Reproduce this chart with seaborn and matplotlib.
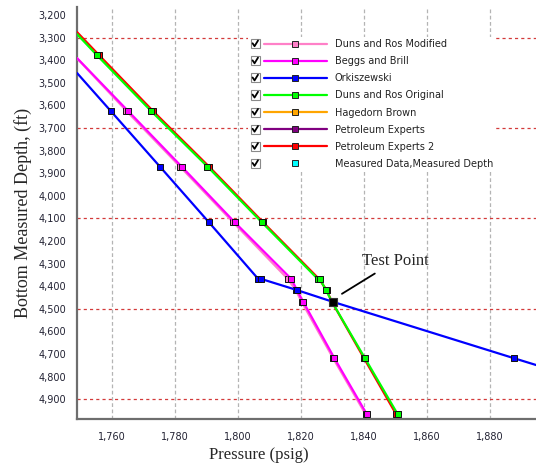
import matplotlib
matplotlib.use("Agg")
import matplotlib.pyplot as plt
import seaborn as sns
import pandas as pd
from matplotlib.lines import Line2D
from matplotlib.patches import Rectangle
from matplotlib.legend_handler import HandlerBase
from matplotlib.ticker import MultipleLocator, FuncFormatter

# ---------------- data ----------------
series_names = ["Duns and Ros Modified", "Beggs and Brill", "Orkiszewski",
                "Duns and Ros Original", "Hagedorn Brown", "Petroleum Experts",
                "Petroleum Experts 2"]
series_colors = ["#FF80C8", "#FF00FF", "#0000FF", "#00FF00", "#FFA500",
                 "#800080", "#FF0000"]

# marker points (pressure psig, depth ft)
drm_p = [1764.6, 1781.6, 1798.5, 1815.8, 1818.3, 1820.2, 1830.2, 1840.5]
drm_d = [3625, 3871, 4118, 4368, 4417, 4469, 4719, 4967]
bb_p = [1765.1, 1782.1, 1799.0, 1816.9, 1818.7, 1820.7, 1830.6, 1840.9]
bb_d = [3625, 3871, 4118, 4368, 4417, 4469, 4719, 4967]
ork_p = [1759.6, 1775.2, 1790.8, 1806.4, 1807.3, 1818.6, 1830.0, 1887.6]
ork_d = [3625, 3871, 4118, 4368, 4368, 4417, 4469, 4719]
dro_p = [1755.2, 1772.4, 1790.3, 1807.6, 1825.3, 1826.0, 1827.9, 1829.8, 1840.3, 1850.7]
dro_d = [3378, 3625, 3871, 4118, 4368, 4368, 4417, 4469, 4719, 4967]
hb_p, hb_d = [], []
pe_p, pe_d = [], []
pe2_p = [1755.9, 1773.0, 1790.8, 1808.0, 1825.7, 1828.1, 1829.8, 1840.0, 1850.2]
pe2_d = [3378, 3625, 3871, 4118, 4368, 4417, 4469, 4719, 4967]

# where the lines run on past their first / last marker (to the plot edge)
drm_start, drm_end = (1748.9, 3392), None
bb_start, bb_end = (1748.9, 3391), None
ork_start, ork_end = (1748.9, 3457), (1894.6, 4749)
dro_start, dro_end = (1748.9, 3285), None
pe2_start, pe2_end = (1748.9, 3276), None

measured_p = [1830.0]
measured_d = [4469]

x_ticks = [1760, 1780, 1800, 1820, 1840, 1860, 1880]
y_ticks = list(range(3200, 5000, 100))
red_lines = [3300, 3700, 4100, 4500, 4900]
x_lim = (1748.9, 1894.6)
y_lim = (4988, 3165)

# ---------------- style ----------------
sns.set_style("white")
plt.rcParams["font.family"] = ["DejaVu Sans"]

fig = plt.figure(figsize=(5.36, 4.68), dpi=100)
ax = fig.add_axes([0.1437, 0.1047, 0.8563, 0.8803])

series = {
    "Duns and Ros Modified": (drm_p, drm_d, drm_start, drm_end),
    "Beggs and Brill": (bb_p, bb_d, bb_start, bb_end),
    "Orkiszewski": (ork_p, ork_d, ork_start, ork_end),
    "Duns and Ros Original": (dro_p, dro_d, dro_start, dro_end),
    "Hagedorn Brown": (hb_p, hb_d, None, None),
    "Petroleum Experts": (pe_p, pe_d, None, None),
    "Petroleum Experts 2": (pe2_p, pe2_d, pe2_start, pe2_end),
}
color_of = dict(zip(series_names, series_colors))

draw_order = ["Hagedorn Brown", "Petroleum Experts", "Petroleum Experts 2",
              "Duns and Ros Modified", "Beggs and Brill",
              "Duns and Ros Original", "Orkiszewski"]

z = 3
for name in draw_order:
    p, d, start, end = series[name]
    if len(p) == 0:
        continue
    lp, ld = list(p), list(d)
    if start is not None:
        lp, ld = [start[0]] + lp, [start[1]] + ld
    if end is not None:
        lp, ld = lp + [end[0]], ld + [end[1]]
    df_line = pd.DataFrame({"p": lp, "d": ld})
    sns.lineplot(data=df_line, x="p", y="d", sort=False, estimator=None,
                 color=color_of[name], lw=1.6, ax=ax, zorder=z)
    df_m = pd.DataFrame({"p": p, "d": d})
    sns.scatterplot(data=df_m, x="p", y="d", marker="s", s=19,
                    color=color_of[name], edgecolor="#111111", linewidth=0.7,
                    ax=ax, zorder=z + 0.5)
    z += 1

df_meas = pd.DataFrame({"p": measured_p, "d": measured_d})
sns.scatterplot(data=df_meas, x="p", y="d", marker="s", s=32, color="black",
                edgecolor="#333333", linewidth=0.8, ax=ax, zorder=20)

ax.annotate("Test Point", xy=(1833.0, 4434), xytext=(1839.4, 4288),
            ha="left", va="center", fontsize=12, family="Liberation Serif",
            arrowprops=dict(arrowstyle="-", lw=1.3, color="black",
                            shrinkA=2, shrinkB=0), zorder=21)

# ---------------- axes ----------------
ax.set_xlim(*x_lim)
ax.set_ylim(*y_lim)
ax.set_xticks(x_ticks)
ax.set_yticks(y_ticks)
ax.xaxis.set_minor_locator(MultipleLocator(5))
ax.yaxis.set_minor_locator(MultipleLocator(20))
fmt = FuncFormatter(lambda v, pos: f"{int(round(v)):,}")
ax.xaxis.set_major_formatter(fmt)
ax.yaxis.set_major_formatter(fmt)
ax.tick_params(which="both", direction="out", length=3, width=0.8,
               color="#999999", labelsize=7, labelcolor="#222233")
ax.tick_params(axis="x", which="major", pad=6)
ax.tick_params(axis="y", which="major", pad=5)
ax.tick_params(which="minor", length=2.5)

for xv in x_ticks:
    ax.axvline(xv, color="#B4B4B4", lw=0.9, ls=(0, (3, 2)), zorder=1)
for yv in red_lines:
    ax.axhline(yv, color="#D33A3A", lw=0.9, ls=(0, (2.5, 2.5)), zorder=1)

for side in ["top", "right"]:
    ax.spines[side].set_visible(False)
for side in ["left", "bottom"]:
    ax.spines[side].set_color("#6E6E6E")
    ax.spines[side].set_linewidth(1.6)

ax.set_xlabel("Pressure (psig)", fontsize=12, family="Liberation Serif")
ax.set_ylabel("Bottom Measured Depth, (ft)", fontsize=13,
              family="Liberation Serif")
ax.xaxis.set_label_coords(0.3965, -0.068)
ax.yaxis.set_label_coords(-0.098, 0.5)

# ---------------- legend with check boxes ----------------
class Entry:
    def __init__(self, color, line=True):
        self.color = color
        self.line = line


class CheckHandler(HandlerBase):
    def create_artists(self, legend, h, xdescent, ydescent, width, height,
                       fontsize, trans):
        x0 = -xdescent
        yc = -ydescent + height / 2
        s = 6.5
        box = Rectangle((x0, yc - s / 2), s, s, facecolor="white",
                        edgecolor="#8a8a8a", lw=0.8, transform=trans)
        chk = Line2D([x0 + 1.4, x0 + 2.8, x0 + 5.3],
                     [yc + 0.3, yc - 1.8, yc + 2.3], color="black", lw=1.3,
                     transform=trans)
        arts = [box, chk]
        if h.line:
            arts.append(Line2D([x0 + 9.4, x0 + width], [yc, yc],
                               color=h.color, lw=1.6, transform=trans))
        arts.append(Line2D([x0 + 32], [yc], marker="s", ms=4.4,
                           mfc=h.color, mec="#222222", mew=0.7, ls="none",
                           transform=trans))
        return arts


handles = [Entry(c) for c in series_colors] + [Entry("#00FFFF", line=False)]
labels = series_names + ["Measured Data,Measured Depth"]
leg = ax.legend(handles, labels, handler_map={Entry: CheckHandler()},
                loc="upper left", bbox_to_anchor=(0.373, 0.928),
                fontsize=7, handlelength=7.9, handletextpad=0.75,
                labelspacing=0.73, borderpad=0.25, borderaxespad=0,
                frameon=True, fancybox=False)
leg.get_frame().set_facecolor("white")
leg.get_frame().set_edgecolor("none")
leg.get_frame().set_alpha(1)
leg.set_zorder(30)
for t in leg.get_texts():
    t.set_color("#222222")

fig.savefig("out.png", dpi=100)
